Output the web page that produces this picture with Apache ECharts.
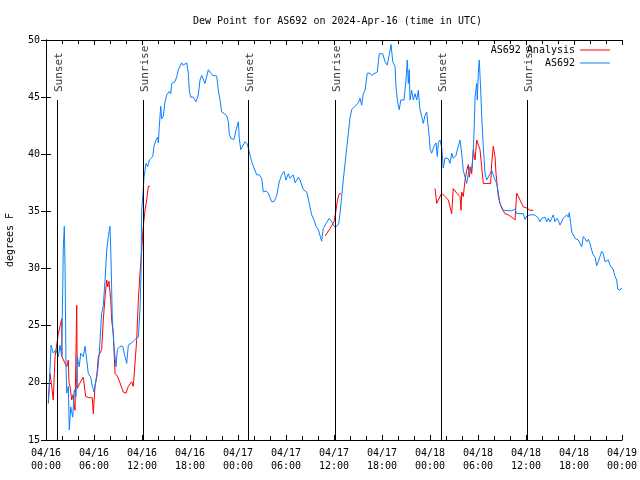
<!DOCTYPE html>
<html>
<head>
<meta charset="utf-8">
<script src="https://cdn.jsdelivr.net/npm/echarts@6/dist/echarts.min.js"></script>
<style>html,body{margin:0;padding:0;background:#fff}#c{width:640px;height:480px}</style>
</head>
<body>
<div id="c"></div>
<script>
// hours since 2024-04-16 00:00 UTC
var blueHours = [0.29,0.41,0.63,0.91,1.25,1.54,1.75,1.96,2.09,2.16,2.29,2.38,2.5,2.59,2.79,2.91,3.09,3.34,3.54,3.75,3.91,4.16,4.34,4.66,4.88,5.09,5.29,5.59,5.79,6.0,6.25,6.46,6.66,6.96,7.16,7.38,7.59,7.79,8.0,8.13,8.29,8.5,8.75,8.91,9.25,9.59,9.88,10.09,10.29,10.71,11.13,11.34,11.54,11.75,11.88,11.96,12.16,12.25,12.38,12.5,12.71,12.91,13.09,13.34,13.5,13.75,13.96,14.04,14.16,14.34,14.46,14.66,14.88,15.09,15.41,15.59,15.71,16.13,16.34,16.54,16.75,16.96,17.16,17.38,17.59,17.79,17.91,18.09,18.41,18.75,19.04,19.25,19.46,19.66,19.88,20.09,20.29,20.5,20.84,21.34,21.54,21.75,21.96,22.16,22.59,22.79,22.91,23.09,23.5,23.75,24.04,24.16,24.34,24.59,24.88,25.16,25.41,25.71,26.0,26.34,26.66,26.96,27.16,27.5,27.79,28.21,28.5,28.84,29.16,29.46,29.75,30.0,30.29,30.5,30.91,31.13,31.54,31.75,32.16,32.59,32.91,33.21,33.5,33.75,34.04,34.46,34.66,35.0,35.41,35.71,36.0,36.34,36.59,36.75,36.96,37.16,37.38,37.59,37.79,38.0,38.21,38.63,39.04,39.25,39.46,39.66,39.88,40.16,40.5,40.71,41.13,41.41,41.66,42.09,42.38,42.66,42.91,43.13,43.34,43.63,43.75,43.96,44.16,44.34,44.75,45.0,45.16,45.29,45.41,45.5,45.71,45.91,46.13,46.34,46.54,46.75,46.96,47.16,47.38,47.59,47.79,47.91,48.0,48.21,48.5,48.75,48.91,49.04,49.25,49.46,49.66,49.88,50.29,50.5,50.71,50.91,51.25,51.54,51.75,51.96,52.16,52.38,52.59,52.79,53.0,53.21,53.41,53.54,53.63,53.84,53.91,54.04,54.16,54.34,54.46,54.66,54.88,55.09,55.29,55.5,55.71,55.91,56.13,56.34,56.54,56.75,56.96,57.16,57.38,58.21,58.63,58.84,59.66,59.88,60.09,60.5,61.13,61.54,61.75,61.96,62.38,62.59,62.79,63.0,63.21,63.41,63.63,63.84,64.04,64.25,64.66,65.09,65.29,65.41,65.59,65.71,65.91,66.13,66.54,66.75,66.96,67.16,67.38,67.59,67.79,68.0,68.21,68.41,68.63,68.84,69.04,69.25,69.46,69.66,69.88,70.09,70.29,70.5,70.71,70.91,71.13,71.34,71.46,71.75,71.96];
var blueValues = [18.35,19.7,23.3,22.6,22.9,22.3,23.3,22.3,28.1,31.8,33.7,30.2,21.4,19.1,19.7,15.9,17.9,17.0,19.4,18.8,22.3,21.4,22.6,22.3,23.2,22.0,20.8,20.5,19.7,19.2,20.3,21.1,22.6,26.1,26.7,29.0,31.6,32.8,33.7,30.75,25.5,23.2,21.4,22.9,23.2,23.2,22.3,21.7,23.3,23.5,23.8,23.9,24.0,26.4,29.6,35.1,36.9,38.0,38.6,39.2,38.9,39.5,39.4,39.8,40.7,41.25,41.5,41.0,42.4,44.2,43.1,43.3,44.6,45.2,45.5,45.3,46.2,46.35,46.8,47.4,47.7,48.0,47.8,47.7,48.0,47.1,45.6,45.0,45.0,44.6,45.2,46.5,46.9,46.8,46.2,46.35,47.4,47.2,46.9,46.85,45.6,44.75,43.7,43.6,43.4,42.85,41.8,41.4,41.3,42.1,42.85,41.4,40.4,40.5,41.1,40.9,40.2,39.35,38.8,38.2,38.2,37.9,36.7,36.8,36.6,35.85,35.85,36.4,37.6,38.2,38.5,37.75,38.3,37.9,38.2,37.5,38.0,37.75,36.9,36.7,35.7,34.7,34.25,33.7,33.4,32.4,33.5,33.95,34.4,34.1,33.7,33.7,33.95,34.8,36.3,37.75,39.2,40.6,41.8,43.2,43.9,44.2,44.5,44.9,44.3,45.3,45.6,47.1,47.1,46.9,47.1,47.2,48.8,48.8,48.1,47.8,48.7,49.6,48.1,47.7,45.9,44.5,43.9,44.75,44.75,46.5,48.25,46.2,47.4,44.75,45.6,44.75,45.3,44.75,45.6,43.9,43.3,42.7,43.4,43.7,42.3,41.5,40.5,40.1,40.7,41.0,39.8,41.0,41.25,40.6,38.8,39.7,39.6,39.2,40.1,39.65,39.9,40.7,41.25,40.1,38.6,38.0,37.45,38.3,38.9,38.6,40.1,42.7,45.0,46.2,44.75,47.1,48.25,45.6,43.3,40.7,38.3,37.75,38.0,38.3,38.6,38.6,37.75,37.45,36.6,35.7,35.4,35.1,35.0,35.05,35.2,34.8,34.8,34.3,34.6,34.7,34.7,34.4,34.1,34.4,34.5,34.1,34.4,34.1,34.4,34.7,34.1,34.4,34.2,33.8,34.4,34.7,34.5,34.9,33.95,33.2,33.1,32.65,32.5,32.2,31.9,32.8,32.6,32.35,32.55,32.2,31.6,31.2,31.0,30.25,30.6,31.05,31.5,31.3,30.6,30.5,30.75,30.3,30.2,29.9,29.3,29.0,28.2,28.1,28.3];

var redHours = [0.29,0.5,0.71,0.91,1.13,1.34,1.54,1.84,1.96,2.0,2.38,2.59,2.79,2.88,3.0,3.21,3.41,3.54,3.63,3.84,3.91,4.25,4.66,4.88,4.96,5.41,5.79,5.91,6.13,6.34,6.54,6.75,6.96,7.16,7.38,7.59,7.71,7.88,8.09,8.21,8.41,8.63,8.91,9.25,9.66,10.0,10.29,10.71,10.91,11.0,11.34,11.54,11.75,11.96,12.16,12.38,12.59,12.79,13.0,
  20.0,
  34.88,35.5,36.0,36.25,36.41,36.63,36.88,
  42.0,
  48.63,48.84,49.04,49.46,49.88,50.29,50.71,50.91,51.34,51.75,51.88,51.96,52.16,52.38,52.59,52.79,52.91,53.09,53.21,53.41,53.63,53.84,54.04,54.25,54.46,54.66,55.59,55.71,55.91,56.13,56.25,56.41,56.54,56.75,56.96,57.38,57.79,58.21,58.63,58.84,59.25,59.66,60.09,60.5,60.91];
var redValues = [18.2,20.8,19.7,18.5,22.3,22.3,24.3,25.2,25.6,22.3,21.7,21.4,22.0,20.0,19.7,18.5,19.0,17.9,17.6,26.8,19.5,20.0,20.5,20.5,18.8,18.7,18.7,17.3,19.7,20.5,22.3,22.6,22.9,25.5,27.5,29.0,28.4,28.9,27.2,25.5,24.3,20.8,20.6,20.0,19.2,19.1,19.7,20.1,19.7,20.5,23.8,27.2,29.6,31.6,33.7,35.1,36.0,37.2,37.2,
  null,
  32.85,33.5,34.1,35.1,35.9,36.5,36.6,
  null,
  37.0,35.7,36.0,36.6,36.3,36.0,34.8,37.0,36.6,36.3,35.1,36.7,36.3,37.75,38.6,39.1,38.0,38.9,38.3,40.4,39.5,41.25,41.25,40.4,38.9,37.45,37.45,39.2,40.7,39.8,38.3,37.2,36.3,35.7,35.3,34.8,34.7,34.5,34.25,36.6,36.0,35.4,35.3,35.1,35.1];

var eventHours = [1.375, 12.125, 25.25, 36.125, 49.375, 60.125];
var eventNames = ['Sunset', 'Sunrise', 'Sunset', 'Sunrise', 'Sunset', 'Sunrise'];

var xTickHours = [0,6,12,18,24,30,36,42,48,54,60,66,72];
var yTicks = [15,20,25,30,35,40,45,50];

function zip(a, b) { return a.map(function (v, i) { return [v, b[i]]; }); }
function pad(n) { return (n < 10 ? '0' : '') + n; }
function xLabel(h) {
  var day = 16 + Math.floor(h / 24);
  var hh = h % 24;
  return '04/' + pad(day) + '\n' + pad(hh) + ':00';
}

var FONT = 'DejaVu Sans Mono';
var chart = echarts.init(document.getElementById('c'), null, { renderer: 'canvas' });
var axisCommon = {
  axisLine: { show: true, lineStyle: { color: '#000', width: 1 } },
  splitLine: { show: false }
};
var option = {
  animation: false,
  backgroundColor: '#fff',
  title: {
    text: 'Dew Point for AS692 on 2024-Apr-16 (time in UTC)',
    left: 188, top: 11,
    textStyle: { fontFamily: FONT, fontSize: 10, fontWeight: 'normal', color: '#000' }
  },
  legend: [{
    data: ['AS692 Analysis'], right: 30, top: 45, orient: 'vertical', align: 'right',
    icon: 'rect', itemWidth: 30, itemHeight: 1, padding: 0,
    textStyle: { fontFamily: FONT, fontSize: 10, color: '#000' }
  }, {
    data: ['AS692'], right: 30, top: 58, orient: 'vertical', align: 'right',
    icon: 'rect', itemWidth: 30, itemHeight: 1, padding: 0,
    textStyle: { fontFamily: FONT, fontSize: 10, color: '#000' }
  }],
  grid: { left: 46, right: 18, top: 40, bottom: 40, show: false, containLabel: false, outerBoundsMode: 'none' },
  xAxis: [Object.assign({
    type: 'value', min: 0, max: 72, interval: 6, position: 'bottom',
    axisTick: { show: true, inside: true, length: 5, lineStyle: { color: '#000' } },
    minorTick: { show: true, splitNumber: 3, length: 4, lineStyle: { color: '#000' } },
    axisLabel: {
      fontFamily: FONT, fontSize: 10, color: '#000', margin: 7, lineHeight: 13,
      formatter: function (v) { return xLabel(v); },
      customValues: xTickHours
    }
  }, axisCommon), Object.assign({
    type: 'value', min: 0, max: 72, interval: 6, position: 'top',
    axisTick: { show: true, inside: true, length: 5, lineStyle: { color: '#000' } },
    minorTick: { show: true, splitNumber: 3, length: 4, lineStyle: { color: '#000' } },
    axisLabel: { show: false }
  }, axisCommon)],
  yAxis: [Object.assign({
    type: 'value', min: 15, max: 50, interval: 5, position: 'left',
    name: 'degrees F', nameLocation: 'middle', nameGap: 31,
    nameTextStyle: { fontFamily: FONT, fontSize: 10, color: '#000' },
    axisTick: { show: true, inside: true, length: 5, lineStyle: { color: '#000' } },
    axisLabel: { fontFamily: FONT, fontSize: 10, color: '#000', margin: 6, customValues: yTicks }
  }, axisCommon), Object.assign({
    type: 'value', min: 15, max: 50, interval: 5, position: 'right',
    axisTick: { show: true, inside: true, length: 5, lineStyle: { color: '#000' } },
    axisLabel: { show: false }
  }, axisCommon)],
  series: [{
    name: 'AS692 Analysis', type: 'line', data: zip(redHours, redValues),
    showSymbol: false, symbol: 'none', connectNulls: false,
    lineStyle: { color: '#ff0000', width: 1 }, itemStyle: { color: '#ff0000' }
  }, {
    name: 'AS692', type: 'line', data: zip(blueHours, blueValues),
    showSymbol: false, symbol: 'none',
    lineStyle: { color: '#0a80ff', width: 1 }, itemStyle: { color: '#0a80ff' }
  }, {
    name: 'events', type: 'scatter', symbolSize: 0, silent: true,
    data: eventHours.map(function (h, i) { return { value: [h, 45.45], name: eventNames[i] }; }),
    label: {
      show: true, position: 'inside', rotate: 90, align: 'left', verticalAlign: 'middle',
      offset: [0, 2],
      formatter: function (p) { return p.name; },
      fontFamily: FONT, fontSize: 11, color: '#000'
    },
    markLine: {
      silent: true, symbol: 'none', animation: false,
      label: { show: false },
      lineStyle: { color: '#000', width: 1, type: 'solid' },
      data: eventHours.map(function (h) { return [{ coord: [h, 15] }, { coord: [h, 44.75] }]; })
    }
  }]
};
chart.setOption(option);
</script>
</body>
</html>
